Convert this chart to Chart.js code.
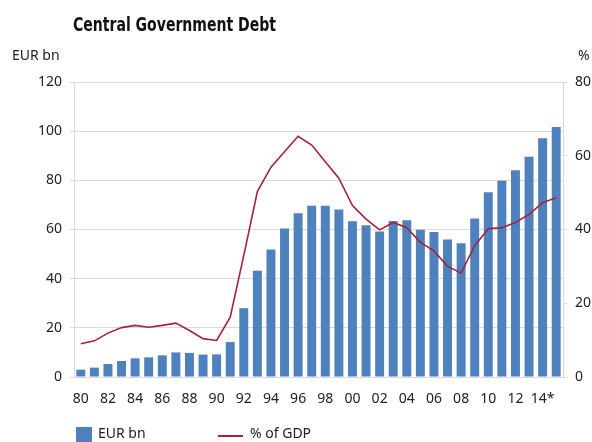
<!DOCTYPE html>
<html>
<head>
<meta charset="utf-8">
<script src="https://cdn.jsdelivr.net/npm/chart.js@4"></script>
<style>
  body { margin: 0; background: #fff; }
  #wrap { position: relative; width: 592px; height: 442px; font-family: "Noto Sans", sans-serif; color: #222; }
  #titel { position: absolute; left: 73px; top: 12px; font: bold 20px "DejaVu Sans Condensed", sans-serif; color: #111;
           white-space: nowrap; transform: scaleX(0.78); transform-origin: left top; }
  .as { position: absolute; top: 45px; font-size: 14px; }
  #legenda { position: absolute; left: 76px; top: 425px; font-size: 14px; }
  #legenda span { position: absolute; white-space: nowrap; }
</style>
</head>
<body>
<div id="wrap">
  <canvas id="Schuld_Chart" width="592" height="442"></canvas>
  <div id="titel">Central Government Debt</div>
  <div class="as" style="left:12px">EUR bn</div>
  <div class="as" style="left:578px">%</div>
  <div id="legenda">
    <span style="left:0;top:2px;width:16px;height:16px;background:#4F81BD"></span>
    <span style="left:22px;top:-2px">EUR bn</span>
    <span style="left:142px;top:10px;width:25px;height:2px;background:#A3223C"></span>
    <span style="left:174px;top:-2px">% of GDP</span>
  </div>
</div>
<script>
// Jaren 1980 - 2015
var jaren = ['80','81','82','83','84','85','86','87','88','89',
             '90','91','92','93','94','95','96','97','98','99',
             '00','01','02','03','04','05','06','07','08','09',
             '10','11','12','13','14*','15'];

// Schuld in EUR mld
var eurBn = [3.0, 3.8, 5.3, 6.5, 7.6, 8.0, 8.8, 10.0, 9.8, 9.1,
             9.2, 14.2, 28.0, 43.2, 51.9, 60.4, 66.6, 69.7, 69.7, 68.1,
             63.4, 61.7, 59.2, 63.5, 63.8, 59.9, 59.0, 55.9, 54.4, 64.5,
             75.2, 79.8, 84.1, 89.6, 97.1, 101.7];

// Schuld in % van bbp
var procentBbp = [9.0, 9.8, 11.9, 13.4, 14.0, 13.5, 14.0, 14.6, 12.6, 10.4,
                  9.9, 16.2, 33.0, 50.3, 56.9, 61.1, 65.3, 62.9, 58.4, 53.9,
                  46.5, 42.8, 39.9, 41.9, 40.5, 36.5, 34.2, 30.0, 28.2, 35.6,
                  40.2, 40.5, 41.9, 44.1, 47.3, 48.6];

var linkerTicks = [0, 20, 40, 60, 80, 100, 120];
var rechterTicks = [0, 20, 40, 60, 80];

var grijs = '#d9d9d9';
var tickFont = { family: 'Noto Sans', size: 14 };

var ctx = document.getElementById('Schuld_Chart').getContext('2d');
var schuldChart = new Chart(ctx, {
    type: 'bar',
    data: {
        labels: jaren,
        datasets: [
            { type: 'line', label: '% of GDP', data: procentBbp, yAxisID: 'yR',
              borderColor: '#A3223C', borderWidth: 1.6, pointRadius: 0, tension: 0, order: 0 },
            { label: 'EUR bn', data: eurBn, yAxisID: 'yL', backgroundColor: '#4F81BD',
              categoryPercentage: 1, barPercentage: 0.66, order: 1 }
        ]
    },
    options: {
        responsive: false,
        animation: false,
        layout: { padding: { top: 82, bottom: 35, left: 0, right: 0 } },
        plugins: { legend: { display: false }, tooltip: { enabled: false } },
        scales: {
            x: {
                grid: { display: false },
                border: { display: true, color: grijs },
                ticks: {
                    autoSkip: false, maxRotation: 0, padding: 6, color: '#222', font: tickFont,
                    callback: function (v, i) { return i % 2 === 0 ? jaren[i] : ''; }
                },
                afterFit: function (s) { s.height = 30; }
            },
            yL: {
                position: 'left', min: 0, max: 120,
                afterBuildTicks: function (s) { s.ticks = linkerTicks.map(v => ({ value: v })); },
                grid: { color: grijs, tickLength: 4 },
                border: { color: grijs },
                ticks: { padding: 8, color: '#222', font: tickFont },
                afterFit: function (s) { s.width = 74; }
            },
            yR: {
                position: 'right', min: 0, max: 80,
                afterBuildTicks: function (s) { s.ticks = rechterTicks.map(v => ({ value: v })); },
                grid: { color: grijs, tickLength: 4, drawOnChartArea: false },
                border: { color: grijs },
                ticks: { padding: 8, color: '#222', font: tickFont },
                afterFit: function (s) { s.width = 29; }
            }
        }
    }
});
</script>
</body>
</html>
